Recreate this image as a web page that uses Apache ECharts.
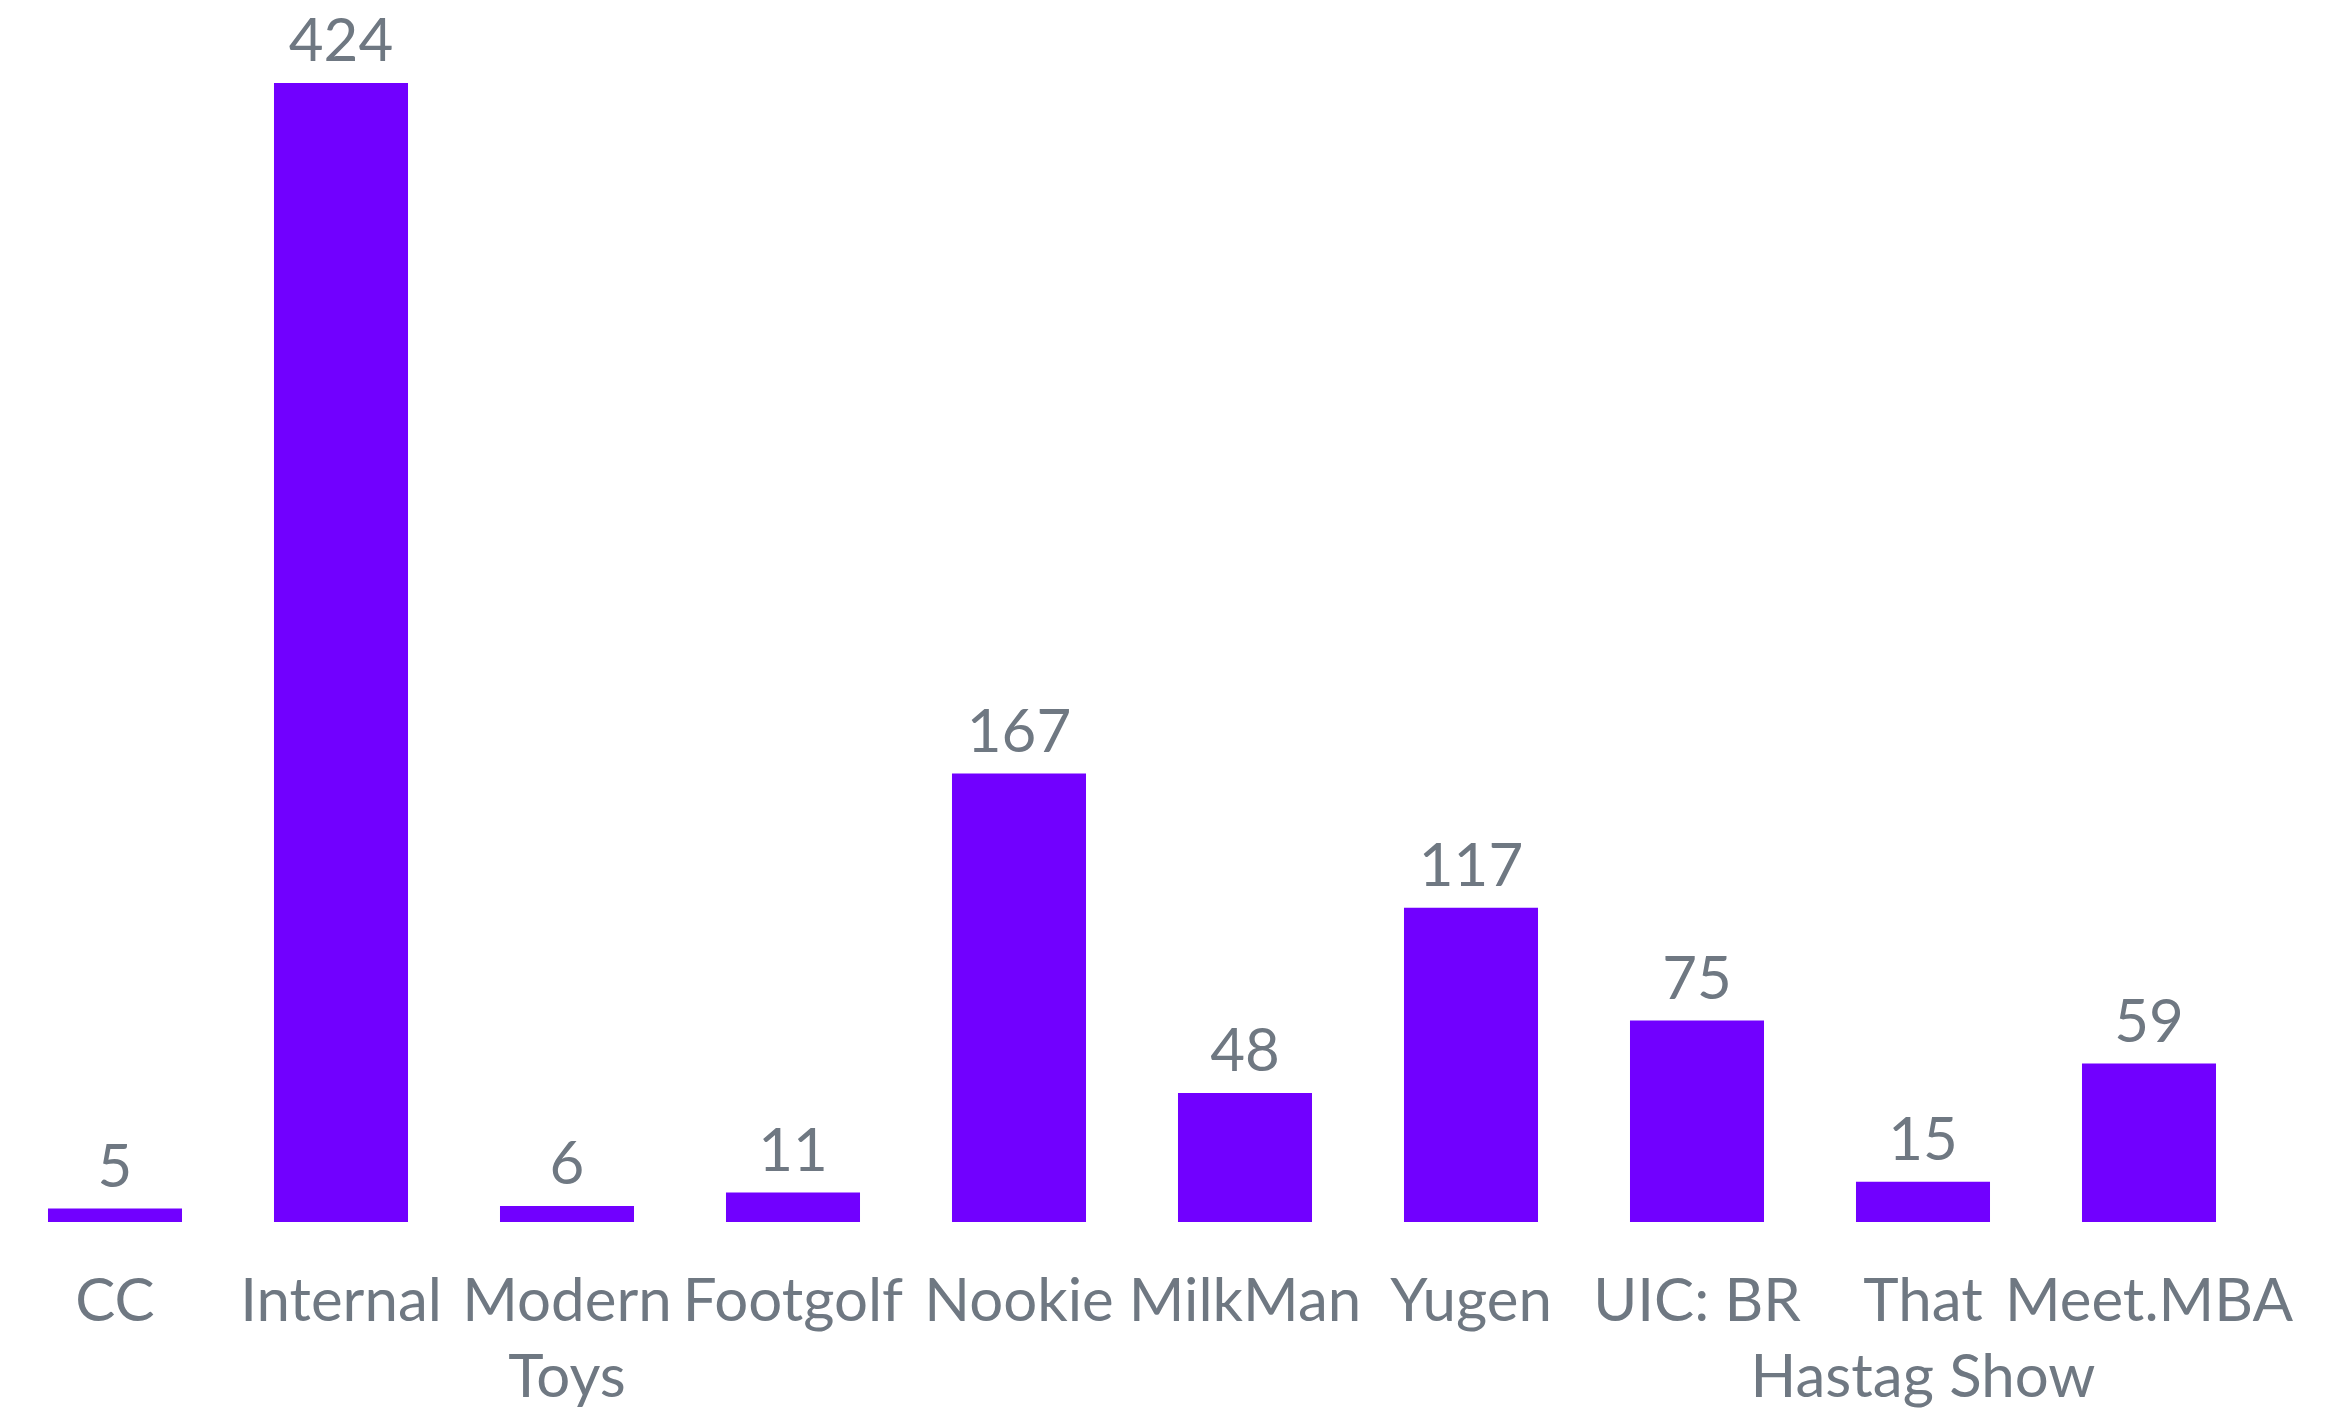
<!DOCTYPE html>
<html>
<head>
<meta charset="utf-8">
<script src="https://cdn.jsdelivr.net/npm/echarts@6/dist/echarts.min.js"></script>
<style>
html,body{margin:0;padding:0;background:#fff;}
#chart{width:2346px;height:1408px;}
</style>
</head>
<body>
<div id="chart"></div>
<script>
const categories = ['CC','Internal','Modern\nToys','Footgolf','Nookie','MilkMan','Yugen','UIC: BR','That\nHastag Show','Meet.MBA'];
const values = [5,424,6,11,167,48,117,75,15,59];

const chart = echarts.init(document.getElementById('chart'));
const textColor = '#6f7882';
const fontFamily = 'Lato, "Open Sans", sans-serif';
chart.setOption({
  backgroundColor: '#ffffff',
  animation: false,
  grid: {left: 2, right: 84, top: 83, bottom: 186, containLabel: false, outerBoundsMode: 'none'},
  xAxis: {
    type: 'category',
    data: categories,
    axisLine: {show: false},
    axisTick: {show: false},
    axisLabel: {
      interval: 0,
      margin: 42,
      color: textColor,
      fontSize: 60,
      lineHeight: 76,
      fontFamily: fontFamily,
      hideOverlap: false
    }
  },
  yAxis: {
    type: 'value',
    show: false,
    min: 0,
    max: 424,
    splitLine: {show: false}
  },
  series: [{
    type: 'bar',
    data: values,
    barWidth: '59.3%',
    itemStyle: {color: '#7100ff'},
    label: {
      show: true,
      position: 'top',
      distance: 11,
      color: textColor,
      fontSize: 60,
      fontFamily: fontFamily
    }
  }]
});
</script>
</body>
</html>
